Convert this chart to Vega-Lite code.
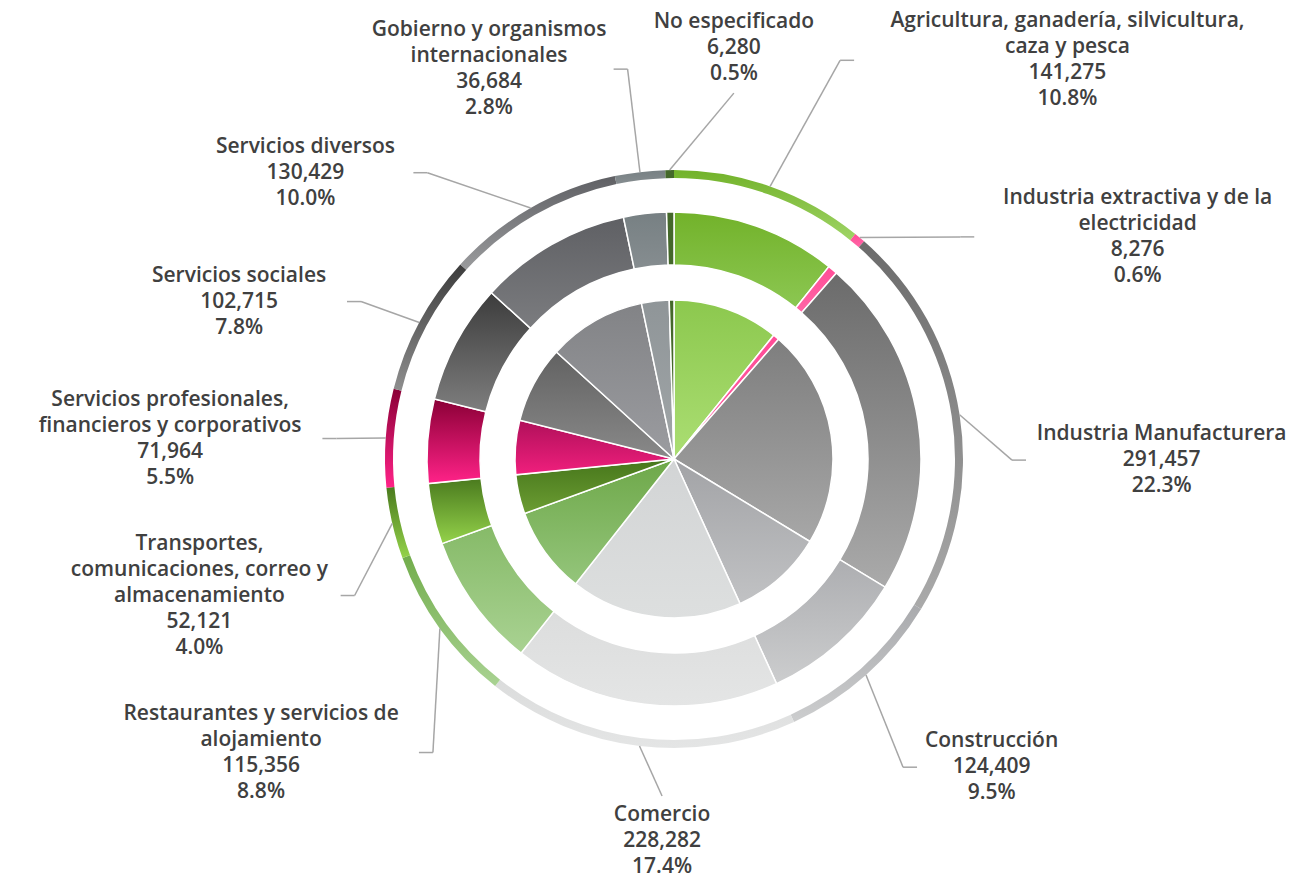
{
  "$schema": "https://vega.github.io/schema/vega-lite/v6.json",
  "width": 1260,
  "height": 844,
  "autosize": "none",
  "padding": {"left": 44, "top": 37, "right": 0, "bottom": 0},
  "background": "#ffffff",
  "config": {"view": {"stroke": null}},
  "data": {
    "values": [
      {"name": "Agricultura, ganadería, silvicultura,\ncaza y pesca", "value": 141275, "pct": "10.8%"},
      {"name": "Industria extractiva y de la\nelectricidad", "value": 8276, "pct": "0.6%"},
      {"name": "Industria Manufacturera", "value": 291457, "pct": "22.3%"},
      {"name": "Construcción", "value": 124409, "pct": "9.5%"},
      {"name": "Comercio", "value": 228282, "pct": "17.4%"},
      {"name": "Restaurantes y servicios de\nalojamiento", "value": 115356, "pct": "8.8%"},
      {"name": "Transportes,\ncomunicaciones, correo y\nalmacenamiento", "value": 52121, "pct": "4.0%"},
      {"name": "Servicios profesionales,\nfinancieros y corporativos", "value": 71964, "pct": "5.5%"},
      {"name": "Servicios sociales", "value": 102715, "pct": "7.8%"},
      {"name": "Servicios diversos", "value": 130429, "pct": "10.0%"},
      {"name": "Gobierno y organismos\ninternacionales", "value": 36684, "pct": "2.8%"},
      {"name": "No especificado", "value": 6280, "pct": "0.5%"}
    ]
  },
  "transform": [
    {"window": [{"op": "row_number", "as": "idx"}]},
    {"joinaggregate": [{"op": "sum", "field": "value", "as": "total"}]},
    {"window": [{"op": "sum", "field": "value", "as": "cum"}], "sort": [{"field": "idx", "order": "ascending"}], "frame": [null, 0]},
    {"calculate": "(datum.cum - datum.value / 2) / datum.total * 2 * PI", "as": "m"},
    {"calculate": "sin(datum.m)", "as": "sm"},
    {"calculate": "cos(datum.m)", "as": "cm"},
    {"calculate": "split(datum.name, '\\n')", "as": "nm"},
    {"calculate": "max(length(datum.nm[0]), datum.nm.length > 1 ? length(datum.nm[1]) : 0, datum.nm.length > 2 ? length(datum.nm[2]) : 0) * 5.55", "as": "hw"},
    {"calculate": "(datum.nm.length + 2) * 13", "as": "hh"},
    {"calculate": "datum.cm >= 0.9 ? 'top' : (datum.cm <= -0.9 ? 'bot' : (datum.sm < 0 ? 'left' : 'right'))", "as": "grp"},
    {"calculate": "datum.grp === 'top' ? 440 * datum.sm : (datum.grp === 'bot' ? 100 * datum.sm : 30 - 350 * datum.cm + 25 * datum.sm)", "as": "key"},
    {"calculate": "(datum.grp === 'top' || datum.grp === 'bot') ? 2 * datum.hw : 2 * datum.hh", "as": "sz"},
    {"calculate": "datum.sz + ((datum.grp === 'top' || datum.grp === 'bot') ? 45 : 40)", "as": "szg"},
    {"window": [{"op": "sum", "field": "szg", "as": "cf"}], "groupby": ["grp"], "sort": [{"field": "key", "order": "ascending"}], "frame": [null, 0]},
    {"calculate": "datum.cf - datum.sz / 2", "as": "qf"},
    {"calculate": "datum.key - datum.qf", "as": "a"},
    {"window": [{"op": "max", "field": "a", "as": "amax"}], "groupby": ["grp"], "sort": [{"field": "key", "order": "ascending"}], "frame": [null, 0]},
    {"window": [{"op": "sum", "field": "szg", "as": "cb"}], "groupby": ["grp"], "sort": [{"field": "key", "order": "descending"}], "frame": [null, 0]},
    {"calculate": "datum.cb - datum.sz / 2", "as": "qb"},
    {"calculate": "datum.key + datum.qb", "as": "b"},
    {"window": [{"op": "min", "field": "b", "as": "bmin"}], "groupby": ["grp"], "sort": [{"field": "key", "order": "descending"}], "frame": [null, 0]},
    {"calculate": "(datum.grp === 'top' || datum.grp === 'bot') ? 0.65 * (datum.amax + datum.qf) + 0.35 * (datum.bmin - datum.qb) : datum.amax + datum.qf", "as": "pos"},
    {"calculate": "(datum.grp === 'top' || datum.grp === 'bot') ? datum.pos : (datum.grp === 'left' ? -1 : 1) * (360 * sqrt(max(0, 1 - pow(datum.pos / 430, 2))) + datum.hw)", "as": "cx"},
    {"calculate": "datum.grp === 'top' ? -408 * sqrt(max(0, 1 - pow(datum.pos / 1000, 2))) - 0.06 * datum.pos : (datum.grp === 'bot' ? 382 : datum.pos)", "as": "cy"},
    {"calculate": "datum.cy - datum.hh + 13", "as": "ty"},
    {"calculate": "289 * datum.sm", "as": "rx"},
    {"calculate": "-289 * datum.cm", "as": "ry"},
    {"calculate": "(datum.grp === 'left' || ((datum.grp === 'top' || datum.grp === 'bot') && datum.rx > datum.cx + datum.hw + 25)) ? 1 : ((datum.grp === 'right' || datum.rx < datum.cx - datum.hw - 25) ? -1 : 0)", "as": "side"},
    {"calculate": "datum.side === 0 ? datum.cx : datum.cx + datum.side * (datum.hw + 8)", "as": "ex"},
    {"calculate": "datum.side === 0 ? datum.cx : datum.cx + datum.side * (datum.hw + 22)", "as": "elx"},
    {"calculate": "datum.side !== 0 ? datum.cy : (datum.grp === 'top' ? datum.cy + datum.hh + 6 : datum.cy - datum.hh - 6)", "as": "ey"},
    {"calculate": "datum.name + '\\n' + format(datum.value, ',') + '\\n' + datum.pct", "as": "label"}
  ],
  "layer": [
    {
      "mark": {"type": "arc", "radius": 289, "radius2": 281},
      "encoding": {
        "theta": {"field": "value", "type": "quantitative", "stack": true},
        "order": {"field": "idx", "type": "quantitative"},
        "fill": {
          "condition": [
            {"test": "datum.idx === 1", "value": {"gradient": "linear", "x1": 0, "y1": 0, "x2": 0, "y2": 1, "stops": [{"offset": 0, "color": "#72b22a"}, {"offset": 1, "color": "#9fd466"}]}},
            {"test": "datum.idx === 2", "value": {"gradient": "linear", "x1": 0, "y1": 0, "x2": 0, "y2": 1, "stops": [{"offset": 0, "color": "#ff4d97"}, {"offset": 1, "color": "#ff66a6"}]}},
            {"test": "datum.idx === 3", "value": {"gradient": "linear", "x1": 0, "y1": 0, "x2": 0, "y2": 1, "stops": [{"offset": 0, "color": "#6b6b6b"}, {"offset": 1, "color": "#aaaaaa"}]}},
            {"test": "datum.idx === 4", "value": {"gradient": "linear", "x1": 0, "y1": 0, "x2": 0, "y2": 1, "stops": [{"offset": 0, "color": "#a9aaad"}, {"offset": 1, "color": "#cccdce"}]}},
            {"test": "datum.idx === 5", "value": {"gradient": "linear", "x1": 0, "y1": 0, "x2": 0, "y2": 1, "stops": [{"offset": 0, "color": "#dbdcdc"}, {"offset": 1, "color": "#e4e5e5"}]}},
            {"test": "datum.idx === 6", "value": {"gradient": "linear", "x1": 0, "y1": 0, "x2": 0, "y2": 1, "stops": [{"offset": 0, "color": "#72ad4c"}, {"offset": 1, "color": "#a9d292"}]}},
            {"test": "datum.idx === 7", "value": {"gradient": "linear", "x1": 0, "y1": 0, "x2": 0, "y2": 1, "stops": [{"offset": 0, "color": "#4a7a1e"}, {"offset": 1, "color": "#94d24a"}]}},
            {"test": "datum.idx === 8", "value": {"gradient": "linear", "x1": 0, "y1": 0, "x2": 0, "y2": 1, "stops": [{"offset": 0, "color": "#8a0036"}, {"offset": 1, "color": "#ff2288"}]}},
            {"test": "datum.idx === 9", "value": {"gradient": "linear", "x1": 0, "y1": 0, "x2": 0, "y2": 1, "stops": [{"offset": 0, "color": "#3c3c3c"}, {"offset": 1, "color": "#8e8e8e"}]}},
            {"test": "datum.idx === 10", "value": {"gradient": "linear", "x1": 0, "y1": 0, "x2": 0, "y2": 1, "stops": [{"offset": 0, "color": "#5f6064"}, {"offset": 1, "color": "#9a9b9d"}]}},
            {"test": "datum.idx === 11", "value": {"gradient": "linear", "x1": 0, "y1": 0, "x2": 0, "y2": 1, "stops": [{"offset": 0, "color": "#778083"}, {"offset": 1, "color": "#868d90"}]}}
          ],
          "value": "#44682a"
        }
      }
    },
    {
      "mark": {"type": "arc", "radius": 247, "radius2": 194, "stroke": "#ffffff", "strokeWidth": 1.5},
      "encoding": {
        "theta": {"field": "value", "type": "quantitative", "stack": true},
        "order": {"field": "idx", "type": "quantitative"},
        "fill": {
          "condition": [
            {"test": "datum.idx === 1", "value": {"gradient": "linear", "x1": 0, "y1": 0, "x2": 0, "y2": 1, "stops": [{"offset": 0, "color": "#72b22a"}, {"offset": 1, "color": "#8cc752"}]}},
            {"test": "datum.idx === 2", "value": {"gradient": "linear", "x1": 0, "y1": 0, "x2": 0, "y2": 1, "stops": [{"offset": 0, "color": "#ff4d97"}, {"offset": 1, "color": "#ff66a6"}]}},
            {"test": "datum.idx === 3", "value": {"gradient": "linear", "x1": 0, "y1": 0, "x2": 0, "y2": 1, "stops": [{"offset": 0, "color": "#6b6b6b"}, {"offset": 1, "color": "#aaaaaa"}]}},
            {"test": "datum.idx === 4", "value": {"gradient": "linear", "x1": 0, "y1": 0, "x2": 0, "y2": 1, "stops": [{"offset": 0, "color": "#adaeb1"}, {"offset": 1, "color": "#cccdce"}]}},
            {"test": "datum.idx === 5", "value": {"gradient": "linear", "x1": 0, "y1": 0, "x2": 0, "y2": 1, "stops": [{"offset": 0, "color": "#dcdddd"}, {"offset": 1, "color": "#e4e5e5"}]}},
            {"test": "datum.idx === 6", "value": {"gradient": "linear", "x1": 0, "y1": 0, "x2": 0, "y2": 1, "stops": [{"offset": 0, "color": "#86ba68"}, {"offset": 1, "color": "#a9d292"}]}},
            {"test": "datum.idx === 7", "value": {"gradient": "linear", "x1": 0, "y1": 0, "x2": 0, "y2": 1, "stops": [{"offset": 0, "color": "#4a7a1e"}, {"offset": 1, "color": "#94d24a"}]}},
            {"test": "datum.idx === 8", "value": {"gradient": "linear", "x1": 0, "y1": 0, "x2": 0, "y2": 1, "stops": [{"offset": 0, "color": "#8a0036"}, {"offset": 1, "color": "#ff2288"}]}},
            {"test": "datum.idx === 9", "value": {"gradient": "linear", "x1": 0, "y1": 0, "x2": 0, "y2": 1, "stops": [{"offset": 0, "color": "#3c3c3c"}, {"offset": 1, "color": "#7e7e7e"}]}},
            {"test": "datum.idx === 10", "value": {"gradient": "linear", "x1": 0, "y1": 0, "x2": 0, "y2": 1, "stops": [{"offset": 0, "color": "#5f6064"}, {"offset": 1, "color": "#7b7c7f"}]}},
            {"test": "datum.idx === 11", "value": {"gradient": "linear", "x1": 0, "y1": 0, "x2": 0, "y2": 1, "stops": [{"offset": 0, "color": "#778083"}, {"offset": 1, "color": "#868d90"}]}}
          ],
          "value": "#44682a"
        }
      }
    },
    {
      "mark": {"type": "arc", "radius": 159, "radius2": 0, "stroke": "#ffffff", "strokeWidth": 1.5},
      "encoding": {
        "theta": {"field": "value", "type": "quantitative", "stack": true},
        "order": {"field": "idx", "type": "quantitative"},
        "fill": {
          "condition": [
            {"test": "datum.idx === 1", "value": {"gradient": "linear", "x1": 0, "y1": 0, "x2": 0, "y2": 1, "stops": [{"offset": 0, "color": "#8cc84e"}, {"offset": 1, "color": "#abde73"}]}},
            {"test": "datum.idx === 2", "value": {"gradient": "linear", "x1": 0, "y1": 0, "x2": 0, "y2": 1, "stops": [{"offset": 0, "color": "#ff4d97"}, {"offset": 1, "color": "#ff5ea2"}]}},
            {"test": "datum.idx === 3", "value": {"gradient": "linear", "x1": 0, "y1": 0, "x2": 0, "y2": 1, "stops": [{"offset": 0, "color": "#7e7e7e"}, {"offset": 1, "color": "#a7a7a7"}]}},
            {"test": "datum.idx === 4", "value": {"gradient": "linear", "x1": 0, "y1": 0, "x2": 0, "y2": 1, "stops": [{"offset": 0, "color": "#a2a3a6"}, {"offset": 1, "color": "#c1c2c4"}]}},
            {"test": "datum.idx === 5", "value": {"gradient": "linear", "x1": 0, "y1": 0, "x2": 0, "y2": 1, "stops": [{"offset": 0, "color": "#d2d4d5"}, {"offset": 1, "color": "#dddfdf"}]}},
            {"test": "datum.idx === 6", "value": {"gradient": "linear", "x1": 0, "y1": 0, "x2": 0, "y2": 1, "stops": [{"offset": 0, "color": "#6ea849"}, {"offset": 1, "color": "#94c57b"}]}},
            {"test": "datum.idx === 7", "value": {"gradient": "linear", "x1": 0, "y1": 0, "x2": 0, "y2": 1, "stops": [{"offset": 0, "color": "#46761b"}, {"offset": 1, "color": "#6c9d33"}]}},
            {"test": "datum.idx === 8", "value": {"gradient": "linear", "x1": 0, "y1": 0, "x2": 0, "y2": 1, "stops": [{"offset": 0, "color": "#b0105a"}, {"offset": 1, "color": "#f01f7d"}]}},
            {"test": "datum.idx === 9", "value": {"gradient": "linear", "x1": 0, "y1": 0, "x2": 0, "y2": 1, "stops": [{"offset": 0, "color": "#626262"}, {"offset": 1, "color": "#898989"}]}},
            {"test": "datum.idx === 10", "value": {"gradient": "linear", "x1": 0, "y1": 0, "x2": 0, "y2": 1, "stops": [{"offset": 0, "color": "#828386"}, {"offset": 1, "color": "#9b9ca0"}]}},
            {"test": "datum.idx === 11", "value": {"gradient": "linear", "x1": 0, "y1": 0, "x2": 0, "y2": 1, "stops": [{"offset": 0, "color": "#8f9598"}, {"offset": 1, "color": "#a1a6a8"}]}}
          ],
          "value": "#44682a"
        }
      }
    },
    {
      "mark": {"type": "rule", "color": "#a6a6a6", "strokeWidth": 1.5},
      "encoding": {
        "x": {"field": "rx", "type": "quantitative", "scale": {"domain": [-630, 630], "nice": false, "zero": false}, "axis": null},
        "y": {"field": "ry", "type": "quantitative", "scale": {"domain": [-422, 422], "nice": false, "zero": false, "reverse": true}, "axis": null},
        "x2": {"field": "elx"},
        "y2": {"field": "ey"}
      }
    },
    {
      "mark": {"type": "rule", "color": "#a6a6a6", "strokeWidth": 1.5},
      "encoding": {
        "x": {"field": "elx", "type": "quantitative", "scale": {"domain": [-630, 630], "nice": false, "zero": false}, "axis": null},
        "y": {"field": "ey", "type": "quantitative", "scale": {"domain": [-422, 422], "nice": false, "zero": false, "reverse": true}, "axis": null},
        "x2": {"field": "ex"}
      }
    },
    {
      "mark": {"type": "text", "font": "Open Sans", "fontWeight": 600, "fontSize": 21, "lineHeight": 26, "color": "#404040", "align": "center", "baseline": "middle", "lineBreak": "\n"},
      "encoding": {
        "x": {"field": "cx", "type": "quantitative", "scale": {"domain": [-630, 630], "nice": false, "zero": false}, "axis": null},
        "y": {"field": "ty", "type": "quantitative", "scale": {"domain": [-422, 422], "nice": false, "zero": false, "reverse": true}, "axis": null},
        "text": {"field": "label"}
      }
    }
  ]
}
